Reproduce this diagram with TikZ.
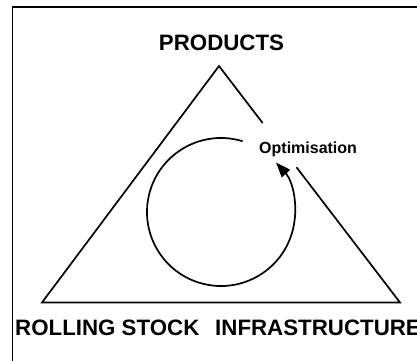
\documentclass[tikz,border=0pt]{standalone}
\usepackage{fontspec}
\setmainfont{Liberation Sans}
\usetikzlibrary{arrows.meta,calc}
\tikzset{
  edge/.style={line width=1.7pt, line cap=round, line join=miter},
  bigtext/.style={inner sep=0pt, font=\bfseries\fontsize{22.3}{24}\selectfont},
  smalltext/.style={inner sep=0pt, font=\bfseries\fontsize{16}{18}\selectfont},
  cycle/.style={line width=1.7pt, -{Triangle[length=15pt,width=11pt]}}
}
\begin{document}
\begin{tikzpicture}[x=1pt,y=1pt]
\useasboundingbox (0,0) rectangle (417,360);
\clip (0,0) rectangle (417,360);
\fill[white] (0,0) rectangle (417,360);
% frame
\draw[line width=1.8pt] (12.5,-20) -- (12.5,353) -- (440,353);
% triangle corners
\coordinate (apex) at (219,294);
\coordinate (bl) at (42,57.5);
\coordinate (br) at (400,57.5);
\coordinate (gapA) at ($(apex)!0.24!(br)$);
\coordinate (gapB) at ($(apex)!0.43!(br)$);
\draw[edge] (gapA) -- (apex) -- (bl) -- (br) -- (gapB);
% cycle
\coordinate (cc) at (221,148);
\draw[cycle] ($(cc)+(73:74)$) arc[start angle=73, end angle=402, radius=74];
% labels
\node[bigtext, anchor=base] (products) at (221.5,310) {PRODUCTS};
\node[bigtext, anchor=base west] (rolling) at (15,25) {ROLLING STOCK};
\node[bigtext, anchor=base west] (infra) at (215,25) {INFRASTRUCTURE};
\node[smalltext, anchor=base west] (optim) at (259,207) {Optimisation};
\end{tikzpicture}
\end{document}
